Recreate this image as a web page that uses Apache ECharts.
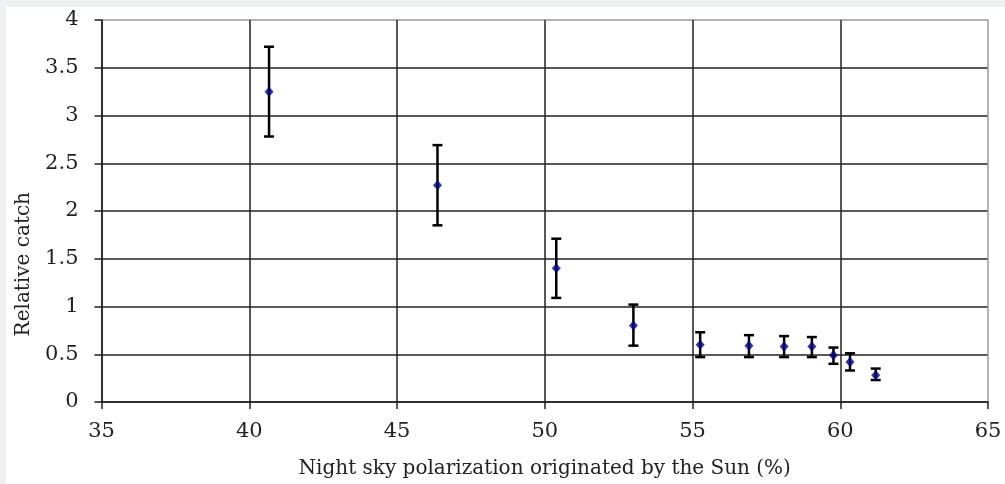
<!DOCTYPE html>
<html>
<head>
<meta charset="utf-8">
<script src="https://cdn.jsdelivr.net/npm/echarts@6/dist/echarts.min.js"></script>
<style>
  html, body { margin: 0; padding: 0; }
  body { width: 1005px; height: 484px; background: #eef0f2; position: relative; overflow: hidden; }
  #chart { position: absolute; left: 6px; top: 7px; width: 999px; height: 477px; background: #fff; }
</style>
</head>
<body>
<div id="chart"></div>
<script>
// polarization (%) of each sample
const polarization = [40.67, 46.37, 50.39, 53.0, 55.26, 56.91, 58.1, 59.04, 59.77, 60.33, 61.2];
// mean relative catch
const catchMean = [3.25, 2.27, 1.40, 0.80, 0.60, 0.59, 0.58, 0.58, 0.49, 0.42, 0.28];
// error bar bounds
const catchLow = [2.78, 1.85, 1.09, 0.59, 0.47, 0.47, 0.47, 0.47, 0.40, 0.33, 0.23];
const catchHigh = [3.72, 2.69, 1.71, 1.02, 0.73, 0.70, 0.69, 0.68, 0.57, 0.51, 0.35];

const fontFam = 'DejaVu Serif';

const points = polarization.map((x, i) => [x, catchMean[i]]);
const bars = polarization.map((x, i) => [x, catchLow[i], catchHigh[i]]);

const chart = echarts.init(document.getElementById('chart'));

const option = {
  animation: false,
  grid: {
    left: 95.5,
    top: 13,
    right: 17,
    bottom: 80.5,
    containLabel: false
  },
  xAxis: {
    type: 'value',
    min: 35,
    max: 65,
    interval: 5,
    name: 'Night sky polarization originated by the Sun (%)',
    nameLocation: 'middle',
    nameGap: 57,
    nameTextStyle: { color: '#222', fontSize: 20, fontFamily: fontFam },
    axisLine: { onZero: false, lineStyle: { color: '#222', width: 1.5 } },
    axisTick: { show: true, length: 7, lineStyle: { color: '#222', width: 1.5 } },
    axisLabel: { color: '#222', fontSize: 21, fontFamily: fontFam, margin: 19 },
    splitLine: {
      show: true,
      lineStyle: { color: ['#222', '#222', '#222', '#222', '#222', '#222', '#999'], width: 1.5 }
    }
  },
  yAxis: {
    type: 'value',
    min: 0,
    max: 4,
    interval: 0.5,
    axisLine: { show: true, lineStyle: { color: '#222', width: 1.5 } },
    axisTick: { show: true, length: 7, lineStyle: { color: '#222', width: 1.5 } },
    axisLabel: { color: '#222', fontSize: 21, fontFamily: fontFam, margin: 23 },
    splitLine: {
      show: true,
      lineStyle: {
        color: ['#222', '#222', '#222', '#222', '#222', '#222', '#222', '#222', '#999'],
        width: 1.5
      }
    }
  },
  graphic: [{
    type: 'text',
    left: 8,
    top: 185,
    rotation: Math.PI / 2,
    style: {
      text: 'Relative catch',
      fill: '#222',
      font: '20px "DejaVu Serif"'
    }
  }],
  series: [
    {
      type: 'custom',
      data: bars,
      z: 2,
      renderItem: function (params, api) {
        const x = api.value(0);
        const lo = api.coord([x, api.value(1)]);
        const hi = api.coord([x, api.value(2)]);
        const hw = 5;
        const st = { stroke: '#000', lineWidth: 2.5 };
        return {
          type: 'group',
          children: [
            { type: 'line', shape: { x1: lo[0], y1: lo[1], x2: hi[0], y2: hi[1] }, style: st },
            { type: 'line', shape: { x1: hi[0] - hw, y1: hi[1], x2: hi[0] + hw, y2: hi[1] }, style: st },
            { type: 'line', shape: { x1: lo[0] - hw, y1: lo[1], x2: lo[0] + hw, y2: lo[1] }, style: st }
          ]
        };
      }
    },
    {
      type: 'scatter',
      data: points,
      z: 3,
      symbol: 'diamond',
      symbolSize: [9, 10],
      itemStyle: { color: '#00008b' }
    }
  ]
};

chart.setOption(option);
</script>
</body>
</html>
